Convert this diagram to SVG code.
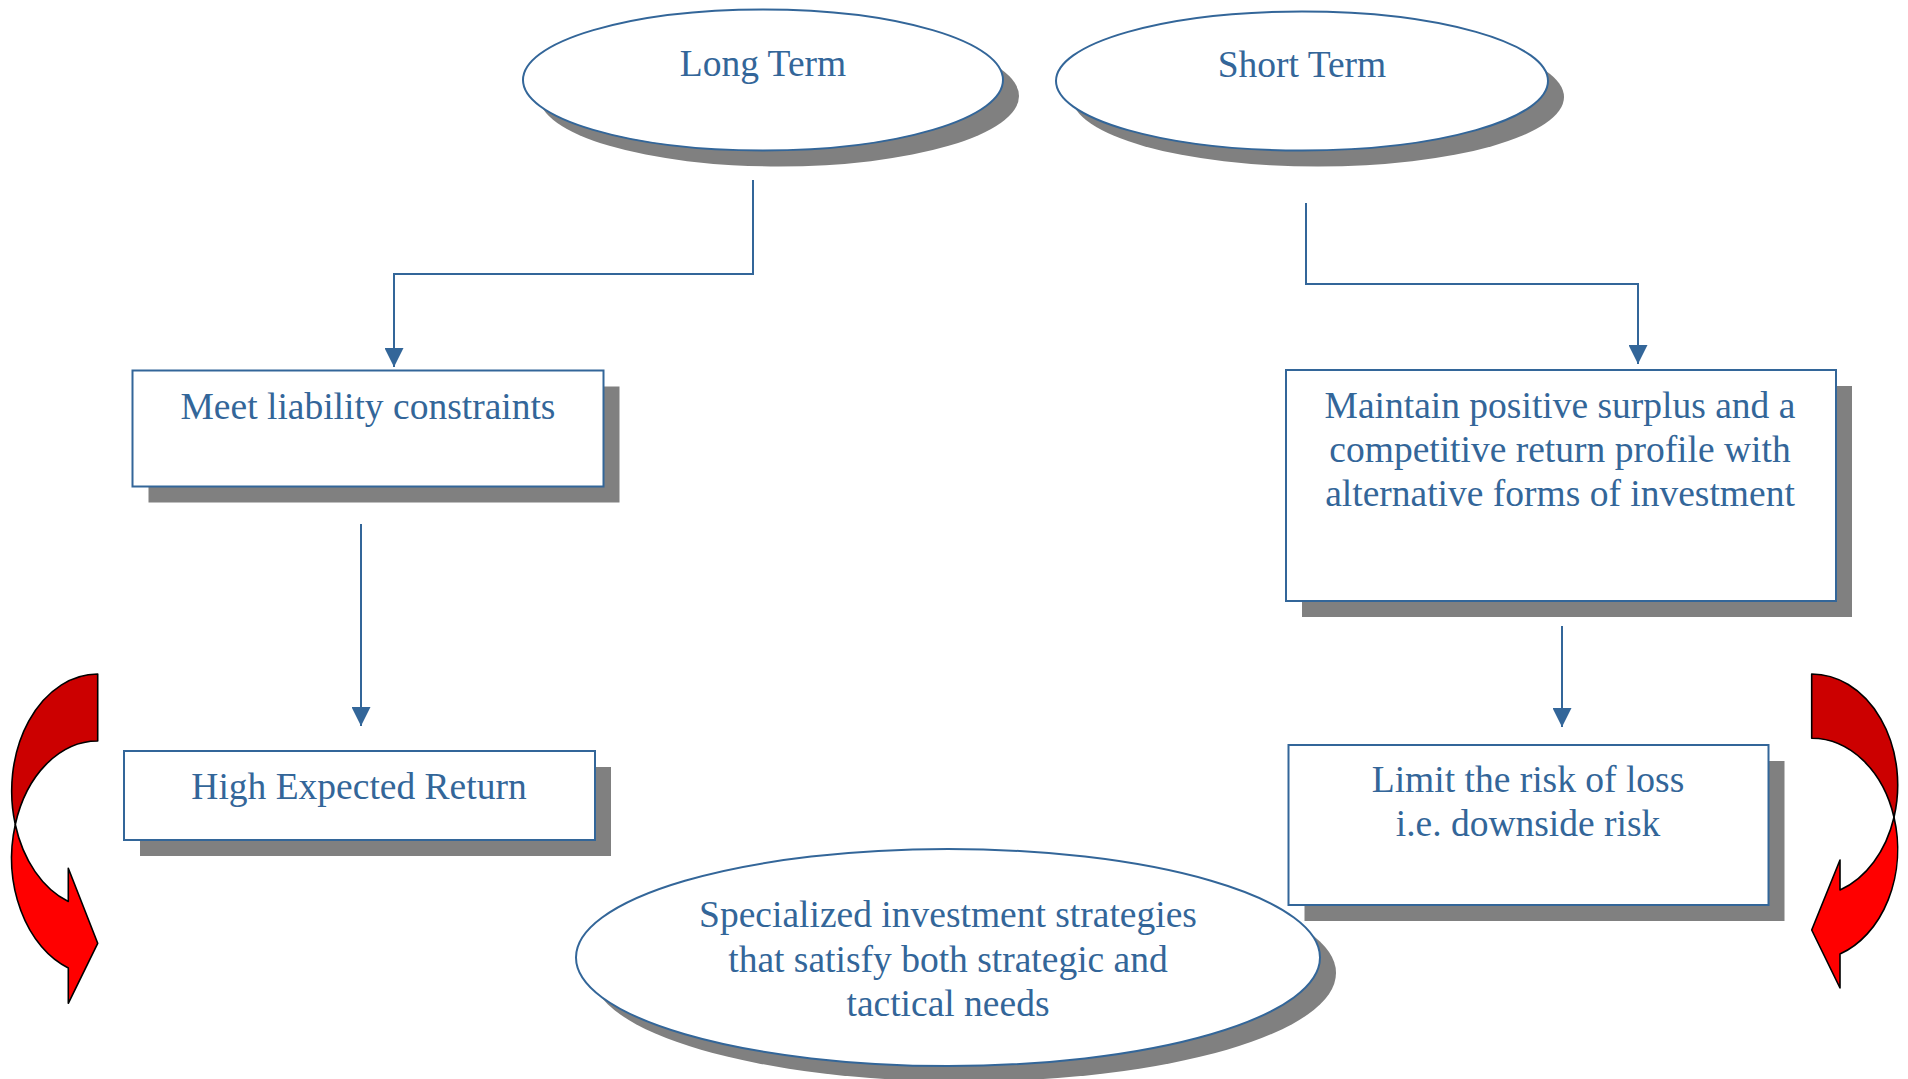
<svg xmlns="http://www.w3.org/2000/svg" width="1908" height="1079" viewBox="0 0 1908 1079">
<defs>
<style>
.shadow{fill:#808080;stroke:none}
.node{fill:#ffffff;stroke:#336699;stroke-width:2}
.txt{font-family:"Liberation Serif","Times New Roman",serif;font-size:37.5px;fill:#336699;text-anchor:middle}
.conn{fill:none;stroke:#336699;stroke-width:2}
.dark{fill:#cc0000;stroke:#000000;stroke-width:1.6;stroke-linejoin:round}
.bright{fill:#ff0000;stroke:#000000;stroke-width:1.6;stroke-linejoin:round}
</style>
<marker id="ah2" viewBox="0 0 10 10" refX="10" refY="5" markerWidth="19" markerHeight="19" markerUnits="userSpaceOnUse" orient="auto">
<path d="M0,0 L10,5 L0,10 Z" fill="#336699"/>
</marker>
</defs>
<rect width="1908" height="1079" fill="#ffffff"/>

<g id="connectors">
<polyline class="conn" points="753,180 753,274 394,274 394,367" marker-end="url(#ah2)"/>
<polyline class="conn" points="1306,203 1306,284 1638,284 1638,364" marker-end="url(#ah2)"/>
<line class="conn" x1="361" y1="524" x2="361" y2="726" marker-end="url(#ah2)"/>
<line class="conn" x1="1562" y1="626" x2="1562" y2="727" marker-end="url(#ah2)"/>
</g>

<g id="long-term">
<ellipse class="shadow" cx="779" cy="96" rx="240" ry="70.5"/>
<ellipse class="node" cx="763" cy="80" rx="240" ry="70.5"/>
<text class="txt" x="763" y="76">Long Term</text>
</g>

<g id="short-term">
<ellipse class="shadow" cx="1318" cy="97" rx="246" ry="69.5"/>
<ellipse class="node" cx="1302" cy="81" rx="246" ry="69.5"/>
<text class="txt" x="1302" y="77">Short Term</text>
</g>

<g id="meet-liability">
<rect class="shadow" x="148.5" y="386.5" width="471" height="116"/>
<rect class="node" x="132.5" y="370.5" width="471" height="116"/>
<text class="txt" x="368" y="419">Meet liability constraints</text>
</g>

<g id="high-return">
<rect class="shadow" x="140" y="767" width="471" height="89"/>
<rect class="node" x="124" y="751" width="471" height="89"/>
<text class="txt" x="359" y="799">High Expected Return</text>
</g>

<g id="maintain">
<rect class="shadow" x="1302" y="386" width="550" height="231"/>
<rect class="node" x="1286" y="370" width="550" height="231"/>
<text class="txt" x="1560" y="418">Maintain positive surplus and a</text>
<text class="txt" x="1560" y="462">competitive return profile with</text>
<text class="txt" x="1560" y="506">alternative forms of investment</text>
</g>

<g id="limit-risk">
<rect class="shadow" x="1304.5" y="761" width="480" height="160"/>
<rect class="node" x="1288.5" y="745" width="480" height="160"/>
<text class="txt" x="1528" y="792">Limit the risk of loss</text>
<text class="txt" x="1528" y="836">i.e. downside risk</text>
</g>

<g id="specialized">
<ellipse class="shadow" cx="964" cy="973" rx="372" ry="108.5"/>
<ellipse class="node" cx="948" cy="957.5" rx="372" ry="108.5"/>
<text class="txt" x="948" y="927">Specialized investment strategies</text>
<text class="txt" x="948" y="972">that satisfy both strategic and</text>
<text class="txt" x="948" y="1016">tactical needs</text>
</g>

<g id="left-curved-arrow">
<path class="bright" d="M15.3,824.5 A86,117 0 0 0 68.3,968 L68.3,1003.3 L97.7,943.3 L68.3,868.3 L68.3,901.5 A86,117 0 0 1 15.3,824.5 Z"/>
<path class="dark" d="M97.7,674 A86,117 0 0 0 15.3,824.5 A86,117 0 0 1 97.7,741 Z"/>
</g>

<g id="right-curved-arrow">
<path class="bright" d="M1894,817.2 A86,111 0 0 1 1840,954 L1840,988 L1811.7,930 L1840,860 L1840,890 A86,111 0 0 0 1894,817.2 Z"/>
<path class="dark" d="M1811.7,674 A86,111 0 0 1 1894,817.2 A86,111 0 0 0 1811.7,738.3 Z"/>
</g>
</svg>
